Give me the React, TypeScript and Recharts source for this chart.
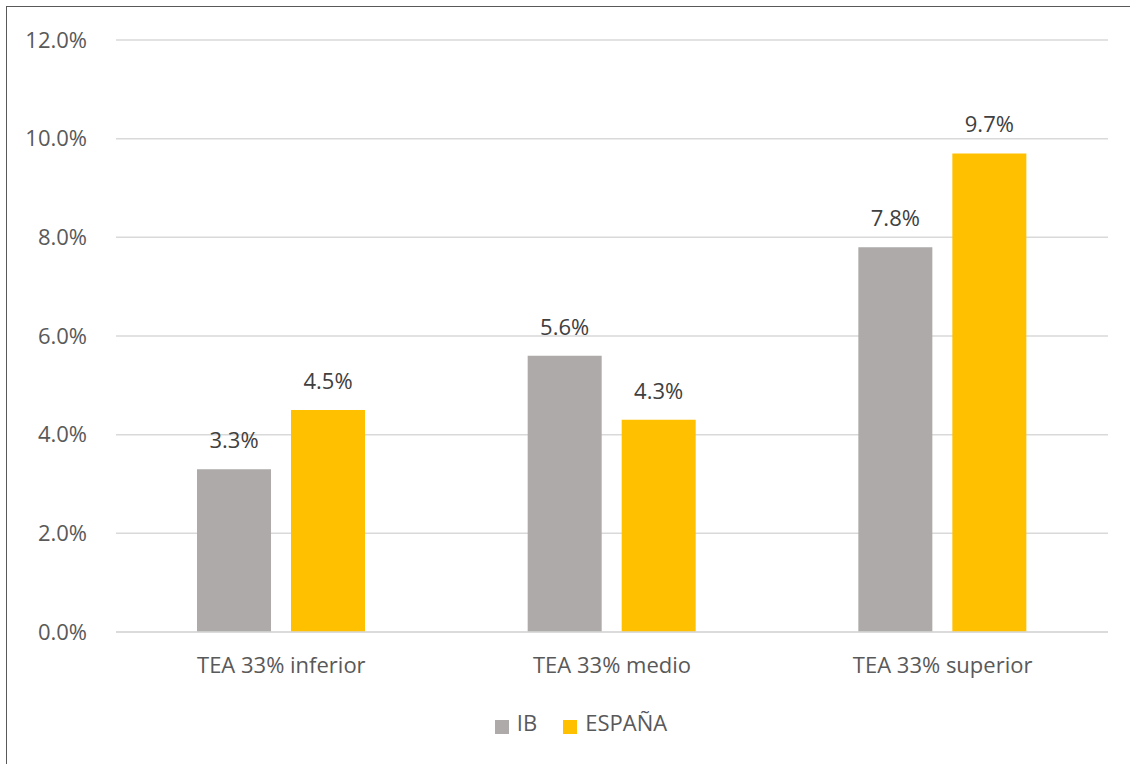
import React from "react";
import { BarChart, Bar, XAxis, YAxis, CartesianGrid, Legend, LabelList } from "recharts";

const categories = ["TEA 33% inferior", "TEA 33% medio", "TEA 33% superior"];
const ibValues = [3.3, 5.6, 7.8];
const espanaValues = [4.5, 4.3, 9.7];
const yTicks = [0, 2, 4, 6, 8, 10, 12];
const seriesOrder = ["IB", "ESPAÑA"];

const data = categories.map((name, i) => ({
  name,
  IB: ibValues[i],
  "ESPAÑA": espanaValues[i],
}));

const FONT = "'Open Sans', sans-serif";
const TEXT = "#595959";

const pct = (v: number) => `${Number(v).toFixed(1)}%`;

export default function App() {
  return (
    <div style={{ position: "absolute", left: 0, top: 0, width: 1130, height: 764, background: "#fff", overflow: "hidden" }}>
      <div
        style={{
          position: "absolute",
          left: 6,
          top: 6,
          width: 1140,
          height: 780,
          border: "1.5px solid #595959",
          boxSizing: "border-box",
        }}
      />
      <div style={{ position: "absolute", left: 0, top: 0 }}>
        <BarChart
          width={1130}
          height={764}
          data={data}
          margin={{ top: 40, right: 22, left: 0, bottom: 27 }}
          barCategoryGap="24.5%"
          barGap={20}
        >
          <CartesianGrid vertical={false} stroke="#d9d9d9" strokeWidth={1.5} />
          <XAxis
            dataKey="name"
            tickLine={false}
            axisLine={{ stroke: "#d9d9d9", strokeWidth: 1.5 }}
            tickMargin={19}
            height={75}
            tick={{ fill: TEXT, fontSize: 22, fontFamily: FONT }}
          />
          <YAxis
            width={116}
            domain={[0, 12]}
            ticks={yTicks}
            tickFormatter={pct}
            axisLine={false}
            tickLine={false}
            tickMargin={23}
            tick={{ fill: TEXT, fontSize: 22, fontFamily: FONT }}
          />
          <Legend
            verticalAlign="bottom"
            align="center"
            iconType="square"
            iconSize={14}
            wrapperStyle={{ paddingLeft: 40 }}
            itemSorter={(item: any) => seriesOrder.indexOf(item.value)}
            formatter={(value: string) => (
              <span style={{ color: TEXT, fontSize: 22, fontFamily: FONT, marginLeft: 4, marginRight: 16 }}>{value}</span>
            )}
          />
          <Bar dataKey="IB" fill="#ADAAA9" isAnimationActive={false}>
            <LabelList dataKey="IB" position="top" offset={21} formatter={pct} fill="#404040" fontSize={22} fontFamily={FONT} />
          </Bar>
          <Bar dataKey="ESPAÑA" fill="#FFC000" isAnimationActive={false}>
            <LabelList dataKey="ESPAÑA" position="top" offset={21} formatter={pct} fill="#404040" fontSize={22} fontFamily={FONT} />
          </Bar>
        </BarChart>
      </div>
    </div>
  );
}
